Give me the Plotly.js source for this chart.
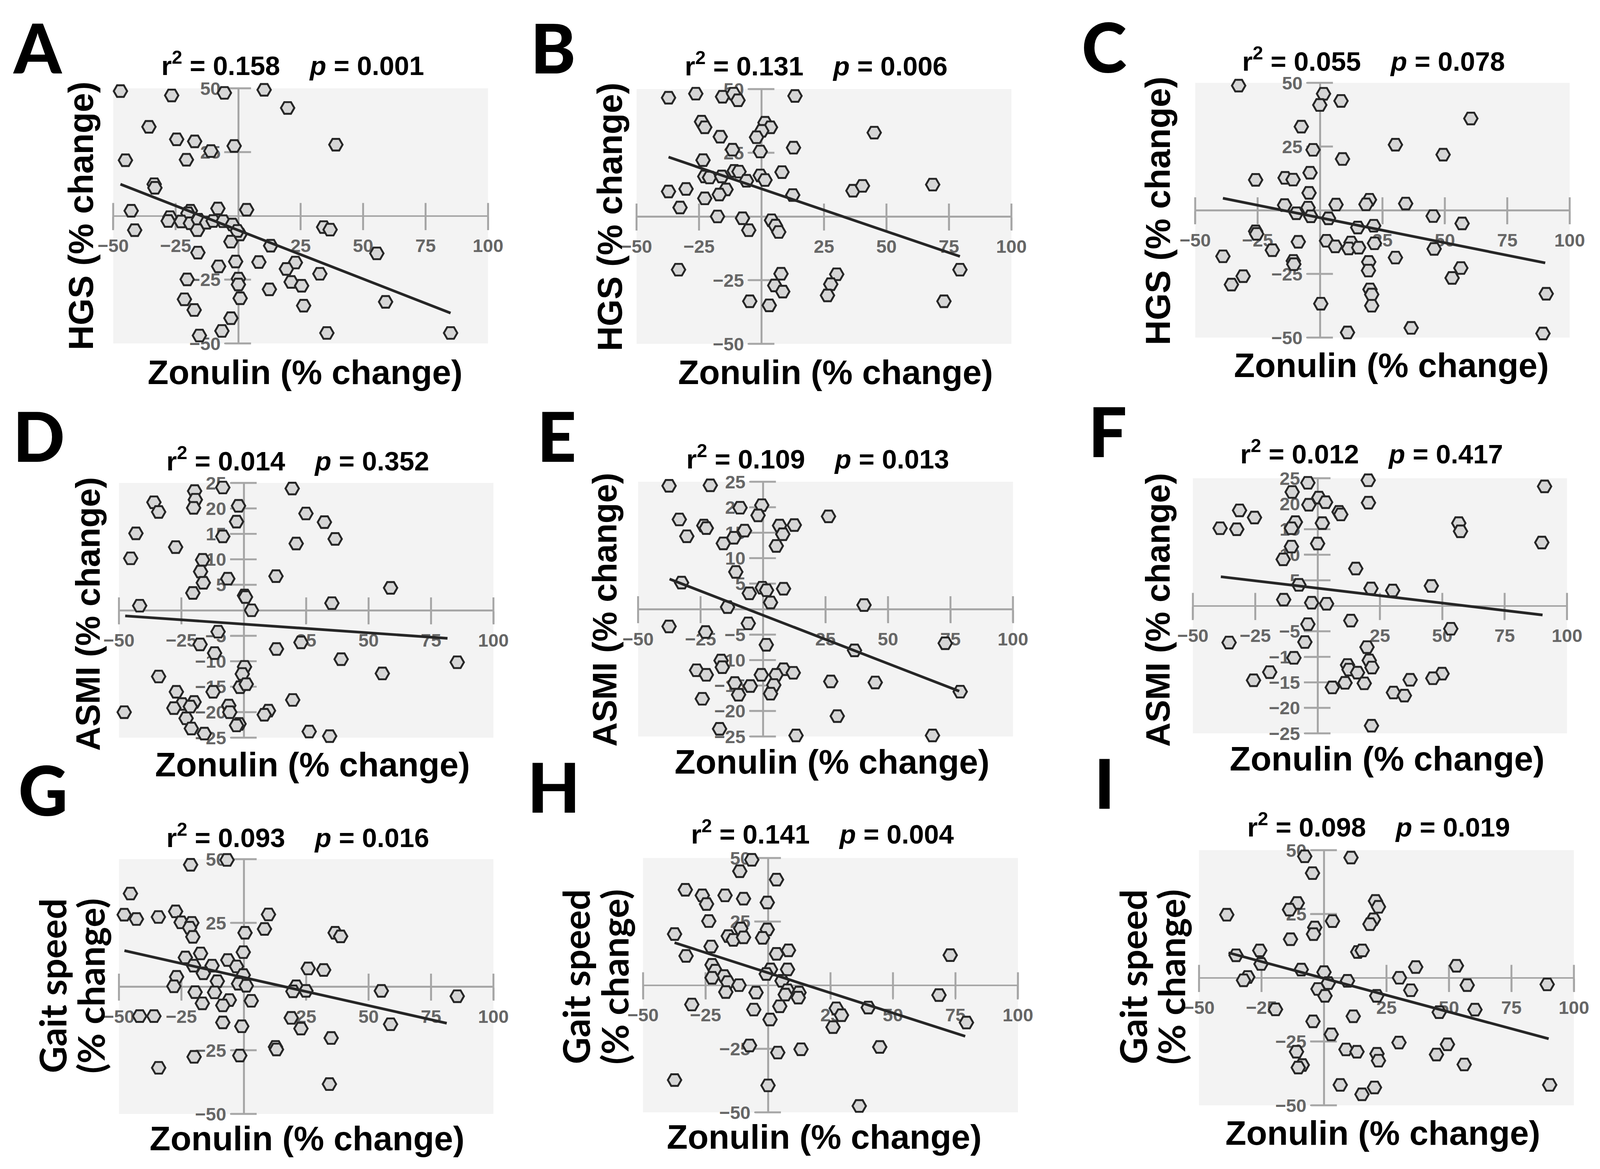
<!DOCTYPE html>
<html>
<head>
<meta charset="utf-8">
<script src="https://cdn.plot.ly/plotly-3.0.1.min.js"></script>
<style>
html, body { margin: 0; padding: 0; background: #fff; overflow: hidden; }
#chart { width: 100vw; height: 100vh; }
</style>
</head>
<body>
<div id="chart"></div>
<script>
// zonulin % change (x) against each outcome % change (y), one pair per panel
var zonA = [-47.1,-26.6,-5.5,10.4,19.8,-35.7,-24.6,-17.4,-1.6,-10.9,39.1,-45.1,-20.7,-33.6,-33.3,-42.8,-19.1,-20.1,-8.1,3.4,-27.3,-28.0,-22.8,-19.1,-15.9,-12.6,-10.0,-6.0,-2.3,-16.3,-41.4,0.7,-0.3,34.2,36.8,-2.9,13.0,55.5,-16.1,-1.0,8.3,22.9,-7.8,19.3,32.7,-20.4,0.1,0.1,21.2,25.4,12.5,-21.5,0.8,59.0,26.2,-17.6,-2.9,-6.5,-15.5,35.5,85.0];
var hgsA = [48.9,47.2,48.2,49.4,42.3,34.9,30.0,29.2,27.4,25.4,27.9,21.8,22.0,12.4,11.0,2.0,2.0,1.0,2.9,2.4,-0.5,-2.0,-2.2,-2.9,-1.5,-2.7,-2.0,-2.1,-3.4,-5.6,-5.6,-7.3,-5.9,-4.4,-5.4,-10.1,-11.7,-14.7,-14.4,-17.9,-18.1,-18.3,-19.8,-20.8,-22.7,-24.9,-24.6,-26.9,-25.9,-27.4,-28.8,-32.7,-32.3,-33.7,-35.2,-36.9,-40.1,-45.1,-46.9,-45.9,-45.9];

var zonB = [-37.2,-26.3,-15.6,-11.2,-9.4,13.4,-24.0,-22.7,-16.5,1.4,3.6,0.1,-2.0,45.1,-11.6,-0.5,12.8,-23.4,-10.9,-9.0,8.2,-22.7,-20.8,-15.9,-0.5,1.4,-6.0,-37.2,-30.2,-14.2,-16.9,-22.7,12.5,36.6,40.4,68.5,-32.6,-17.6,-7.6,4.0,5.6,-5.1,6.9,-33.2,79.4,7.8,30.1,5.3,8.5,27.7,26.4,-4.7,3.1,73.0];
var hgsB = [46.6,48.2,47.0,48.2,45.6,47.3,37.2,35.0,31.3,36.8,35.0,33.6,31.1,32.9,26.2,25.5,27.0,22.1,17.9,17.6,17.4,15.7,15.3,15.7,16.1,14.3,14.0,9.8,10.8,10.6,8.6,7.1,8.4,10.1,12.0,12.5,3.5,0,-0.7,-1.5,-3.6,-5.4,-6.1,-20.9,-20.9,-22.5,-22.7,-27.1,-29.5,-26.6,-31.0,-33.3,-34.9,-33.3];

var zonC = [-32.6,1.4,8.4,-0.1,60.4,-7.5,30.2,-2.8,49.3,9.0,-4.0,-25.8,-14.0,-10.8,-4.4,19.8,18.4,6.4,34.3,-14.2,-4.8,-9.5,-3.7,3.4,45.3,56.9,15.1,21.5,-25.8,-25.4,-8.7,2.6,12.4,21.8,6.1,11.5,15.5,-19.1,45.7,-38.9,30.2,-10.7,-10.5,19.5,19.4,56.4,-30.8,52.9,-35.5,20.0,20.7,20.7,90.6,0.3,36.5,11.0,89.3];
var hgsC = [48.9,45.7,42.9,41.3,36.0,32.8,25.7,23.7,21.8,20.1,14.7,11.9,12.7,12.0,6.8,4.1,2.3,2.2,2.6,2.0,1.0,-1.2,-2.4,-3.2,-2.3,-5.2,-6.8,-6.1,-8.3,-9.3,-12.4,-12.0,-12.7,-13.0,-14.2,-15.0,-14.7,-15.7,-15.2,-18.1,-18.6,-19.9,-21.2,-20.3,-23.7,-22.7,-25.9,-26.6,-29.2,-31.1,-33.1,-37.5,-32.8,-36.7,-46.2,-48.0,-48.4];

var zonD = [-8.4,-19.7,-19.4,-20.1,-36.0,-34.1,-2.1,19.4,24.9,32.3,-2.9,-43.2,-8.4,36.6,21.0,-27.3,-45.3,-16.5,-17.3,-6.4,-16.2,12.9,58.8,-20.4,0.3,0.7,35.3,-41.7,3.1,-10.3,-17.5,22.9,13.1,-11.7,39.0,85.5,0.3,-0.6,55.5,-34.1,-1.5,1.0,-12.3,-27.0,19.6,-19.9,-24.7,-21.4,-28.0,-6.0,-5.6,-47.9,9.9,8.2,-23.1,-1.9,-2.9,-21.0,-15.8,26.2,34.4];
var asmiD = [24.1,23.4,21.7,20.1,21.2,19.3,20.5,23.9,19.0,17.3,17.4,15.1,14.5,14.0,13.1,12.4,10.2,9.9,7.6,6.2,5.4,6.7,4.4,3.4,2.9,2.6,1.4,0.9,0.0,-4.2,-6.7,-6.3,-7.6,-8.4,-9.6,-10.2,-11.1,-12.5,-12.4,-13.0,-15.1,-14.5,-16.0,-16.0,-17.6,-18.0,-18.4,-18.9,-19.2,-18.7,-20.0,-20.0,-19.7,-20.5,-21.2,-22.3,-22.6,-23.2,-24.2,-23.8,-24.7];

var zonE = [-37.6,-21.1,-9.2,-0.5,-2.0,26.2,-33.5,-23.7,-22.7,-7.4,6.6,12.5,-30.5,-11.7,7.9,-15.9,5.3,-10.9,-32.6,-0.3,1.4,8.2,-5.5,3.0,-14.2,40.4,-37.6,-5.9,-23.0,1.3,72.9,36.6,-16.8,-16.3,-26.6,-22.7,-0.7,8.2,5.2,12.1,-11.3,-5.1,4.3,27.1,44.9,3.0,-9.8,-24.3,78.9,29.7,-17.4,13.2,67.8];
var asmiE = [24.2,24.3,19.9,20.4,18.4,18.2,17.6,16.4,15.9,15.4,16.4,16.5,14.3,14.0,14.7,12.9,12.4,7.3,5.2,4.2,3.7,4.0,3.1,1.3,0.4,0.8,-3.4,-2.8,-4.5,-7.0,-6.7,-8.1,-10.1,-11.4,-12.0,-12.9,-12.9,-11.8,-12.9,-12.5,-14.5,-15.1,-14.9,-14.2,-14.4,-16.6,-16.8,-17.6,-16.2,-21.0,-23.5,-24.8,-24.8];

var zonF = [-3.9,20.3,91.0,-10.2,0.5,3.2,-3.5,20.4,-31.3,8.6,9.3,-25.3,-8.9,1.9,-10.5,56.6,57.3,-39.1,-32.4,0.0,89.9,-10.5,-13.8,15.3,-7.5,45.6,21.4,30.1,-13.6,-2.4,3.6,13.3,-3.9,53.4,-35.5,-5.1,19.8,-9.5,20.7,21.8,12.0,12.6,16.0,-19.2,49.9,46.2,37.1,-25.7,11.0,18.7,5.9,30.4,34.8,21.6];
var asmiF = [24.1,24.6,23.4,22.3,21.2,20.3,19.8,20.2,18.7,18.4,17.9,17.3,16.4,16.2,15.2,16.2,14.6,15.2,15.0,12.2,12.4,11.6,9.1,7.3,4.1,3.9,3.4,3.0,1.2,0.6,0.4,-2.9,-3.6,-4.5,-7.2,-7.1,-8.1,-10.2,-10.7,-12.1,-11.6,-12.5,-13.1,-13.0,-13.3,-14.2,-14.5,-14.6,-15.1,-15.2,-16.0,-17.0,-17.6,-23.5];

var zonG = [-6.7,-21.3,-45.4,-47.9,-43.0,-34.2,-27.3,-25.1,-20.8,-21.7,-20.4,9.9,8.3,0.5,36.6,38.8,-17.3,-23.4,-6.4,-0.2,-12.7,-2.9,-20.1,-16.2,25.8,32.0,-0.2,-26.9,-10.6,-28.0,-2.1,1.0,21.0,19.7,24.9,55.1,85.5,-19.5,-11.7,3.0,-5.8,-16.6,-8.4,-41.7,-36.0,19.0,-8.4,-0.8,22.9,58.8,35.0,12.7,13.1,-19.9,-1.6,-34.1,34.3];
var gaitG = [49.7,47.8,36.5,28.2,26.5,27.3,29.5,25.2,25.0,23.1,19.5,28.3,22.6,21.1,21.1,19.7,13.0,11.4,10.4,13.5,8.2,7.9,8.2,5.2,7.1,6.5,4.5,3.8,2.1,0.1,1.1,0.3,0.1,-1.9,-1.7,-1.7,-3.8,-2.2,-2.3,-5.6,-5.3,-6.6,-7.4,-11.6,-11.6,-12.3,-14.1,-15.6,-16.5,-14.8,-20.2,-23.7,-24.7,-27.6,-27.1,-31.9,-38.3];

var zonH = [-6.5,-11.3,3.4,-33.1,-26.3,-24.6,-17.2,-9.8,-0.3,-23.7,-37.4,-10.9,-0.3,-15.9,-13.9,-9.8,-2.2,-22.8,8.2,3.4,-32.8,72.9,-22.4,-21.1,1.0,7.8,-0.7,-17.6,-22.4,-16.1,-11.6,5.6,7.8,-16.9,-4.8,6.9,12.4,12.1,68.4,-30.5,4.7,-5.7,27.3,40.1,29.4,0.8,79.4,26.0,-7.4,13.2,44.7,3.9,-37.4,0.0,36.5];
var gaitH = [49.3,44.8,41.5,37.5,35.3,31.9,35.3,34.0,32.5,25.2,20.1,22.3,21.9,19.3,17.8,18.8,18.6,15.2,13.7,12.3,11.5,11.8,8.0,5.7,6.2,6.2,4.4,3.6,2.9,1.2,0,1.7,-2.0,-2.7,-2.9,-3.7,-2.9,-4.9,-3.9,-7.6,-8.3,-9.6,-9.1,-8.8,-11.8,-13.5,-14.7,-16.5,-23.7,-25.2,-24.3,-26.5,-37.3,-39.4,-47.5];

var zonI = [-7.7,10.8,-4.6,20.6,21.8,-10.7,-13.8,-38.9,3.4,19.8,18.4,-3.7,-4.2,-13.4,-25.7,13.5,15.3,-35.2,-25.2,53.0,36.7,-9.1,0.0,-30.5,-32.2,30.2,9.4,1.7,57.3,89.3,-2.4,34.7,0.4,21.1,-19.4,46.1,60.4,11.7,-4.4,2.9,30.0,49.4,-11.0,8.8,13.2,21.2,21.8,45.0,-8.7,-10.3,56.1,6.5,20.2,15.2,90.3];
var gaitI = [47.6,47.1,41.0,30.1,27.8,29.3,26.7,24.7,22.2,22.9,21.0,19.7,17.1,15.1,10.7,10.1,10.7,8.8,5.4,4.7,4.2,3.2,2.2,0.3,-1.0,0,-1.2,-2.1,-2.9,-2.6,-4.4,-4.9,-7.1,-7.1,-12.4,-13.5,-12.5,-15.1,-17.1,-22.2,-25.4,-26.1,-29.0,-28.1,-29.0,-29.8,-32.5,-30.1,-34.2,-35.2,-34.0,-42.0,-43.0,-45.7,-42.0];

// fitted regression line ends
var fitX = [[-47.1,85.0],[-37.2,79.4],[-38.9,90.2],[-47.5,81.6],[-37.4,78.5],[-38.8,90.2],[-47.8,81.3],[-37.4,78.9],[-38.2,89.9]];
var fitY = [[12.4,-38.1],[23.3,-15.7],[4.7,-20.7],[-1.1,-5.5],[5.9,-16.1],[5.7,-1.8],[14.1,-14.4],[16.7,-20.1],[9.8,-23.9]];

var r2Vals = ['0.158','0.131','0.055','0.014','0.109','0.012','0.093','0.141','0.098'];
var pVals = ['0.001','0.006','0.078','0.352','0.013','0.417','0.016','0.004','0.019'];
var letters = ['A','B','C','D','E','F','G','H','I'];

var xTicks = [-50,-25,25,50,75,100];
var wideTicks = [-50,-25,25,50];
var narrowTicks = [-25,-20,-15,-10,-5,5,10,15,20,25];

var xs = [zonA,zonB,zonC,zonD,zonE,zonF,zonG,zonH,zonI];
var ys = [hgsA,hgsB,hgsC,asmiD,asmiE,asmiF,gaitG,gaitH,gaitI];

// layout measured in a 4170 x 2992 frame, fitted to whatever the window is
var W = 4170, H = 2992;
var VW = window.innerWidth || W, VH = window.innerHeight || H;
var k = Math.min(VW / W, VH / H);
function s(v) { return v * k; }

var boxes = [
	[295,1272,226,879],[1659,2636,228,880],[3115,4091,212,864],
	[310,1286,1236,1888],[1663,2640,1233,1885],[3109,4084,1224,1877],
	[310,1286,2199,2851],[1676,2653,2196,2847],[3125,4102,2176,2829]
];
var letterPos = [[98,120],[1442,120],[2878,118],[101,1114],[1451,1114],[2887,1102],[113,2020],[1443,2012],[2879,2002]];
var titlePos = [[763,163],[2127,164],[3580,152],[776,1175],[2131,1170],[3575,1157],[776,2139],[2144,2130],[3593,2112]];
var xTitlePos = [[795,953],[2178,953],[3626,935],[814,1957],[2168,1950],[3615,1942],[800,2914],[2148,2910],[3604,2900]];
var yTitlePos = [[212,552],[1589,555],[3018,539],[229,1571],[1576,1561],[3018,1561],[185,2523],[1550,2500],[3001,2500]];

var axisCol = '#a6a6a6';
var sans = 'Liberation Sans, Arial, sans-serif';
var rounded = 'Lato, Liberation Sans, sans-serif';

function px(x) { return x / W; }
function py(y) { return 1 - y / H; }
function zeros(a) { return a.map(function () { return 0; }); }

var data = [];
var layout = {
	width: VW,
	height: VH,
	margin: {l: 0, r: 0, t: 0, b: 0},
	paper_bgcolor: '#ffffff',
	plot_bgcolor: '#f3f3f3',
	showlegend: false,
	annotations: []
};

function addText(text, x, y, font, angle) {
	layout.annotations.push({
		text: text,
		xref: 'paper', yref: 'paper',
		x: px(x), y: py(y),
		xanchor: 'center', yanchor: 'middle',
		showarrow: false,
		textangle: angle || 0,
		font: font
	});
}

function bold(family, size) {
	return {family: family, size: s(size), color: '#000', weight: 700};
}

for (var i = 0; i < 9; i++) {
	var n = i === 0 ? '' : String(i + 1);
	var xa = 'x' + n, ya = 'y' + n;
	var b = boxes[i];
	var narrow = (i >= 3 && i <= 5);
	var yTicks = narrow ? narrowTicks : wideTicks;
	var yRange = narrow ? [-25, 25] : [-50, 50];
	var xd = [px(b[0]), px(b[1])];
	var yd = [py(b[3]), py(b[2])];

	// crossing tick marks on the zero axes
	data.push({
		x: xTicks, y: zeros(xTicks), xaxis: xa, yaxis: ya,
		type: 'scatter', mode: 'markers', cliponaxis: false, hoverinfo: 'skip',
		marker: {symbol: 'line-ns', size: s(48), line: {width: s(5), color: axisCol}}
	});
	data.push({
		x: zeros(yTicks), y: yTicks, xaxis: xa, yaxis: ya,
		type: 'scatter', mode: 'markers', cliponaxis: false, hoverinfo: 'skip',
		marker: {symbol: 'line-ew', size: s(48), line: {width: s(5), color: axisCol}}
	});
	data.push({
		x: xs[i], y: ys[i], xaxis: xa, yaxis: ya,
		type: 'scatter', mode: 'markers', cliponaxis: false,
		marker: {symbol: 'hexagon2', size: s(35), color: '#d6d6d6', line: {width: s(5), color: '#262626'}}
	});
	data.push({
		x: fitX[i], y: fitY[i], xaxis: xa, yaxis: ya,
		type: 'scatter', mode: 'lines', cliponaxis: false,
		line: {color: '#262626', width: s(7)}
	});

	var tickFont = {family: sans, size: s(48), color: '#666666', weight: 700};
	layout['xaxis' + n] = {
		domain: xd, range: [-50, 100], anchor: 'free',
		position: yd[0] + (yd[1] - yd[0]) * (0 - yRange[0]) / (yRange[1] - yRange[0]),
		showline: true, linecolor: axisCol, linewidth: s(5),
		ticks: 'outside', ticklen: s(34), tickwidth: s(5), tickcolor: axisCol,
		tickmode: 'array', tickvals: xTicks, tickfont: tickFont,
		ticklabelstandoff: s(14),
		showgrid: false, zeroline: false, layer: 'below traces', fixedrange: true
	};
	layout['yaxis' + n] = {
		domain: yd, range: yRange, anchor: 'free',
		position: xd[0] + (xd[1] - xd[0]) * (50 / 150),
		showline: true, linecolor: axisCol, linewidth: s(5),
		ticks: 'outside', ticklen: s(34), tickwidth: s(5), tickcolor: axisCol,
		tickmode: 'array', tickvals: yTicks, tickfont: tickFont,
		ticklabelstandoff: s(6),
		showgrid: false, zeroline: false, layer: 'below traces', fixedrange: true
	};

	addText(letters[i], letterPos[i][0], letterPos[i][1], {family: rounded, size: s(178), color: '#000', weight: 900});
	addText('r<sup>2</sup> = ' + r2Vals[i] + '\u00a0\u00a0\u00a0\u00a0<i>p</i> = ' + pVals[i],
		titlePos[i][0], titlePos[i][1], bold(sans, 70));
	addText('Zonulin (% change)', xTitlePos[i][0], xTitlePos[i][1], bold(sans, 89));

	if (i < 3) {
		addText('HGS (% change)', yTitlePos[i][0], yTitlePos[i][1], bold(sans, 90), -90);
	} else if (i < 6) {
		addText('ASMI (% change)', yTitlePos[i][0], yTitlePos[i][1], bold(sans, 88), -90);
	} else {
		addText('Gait speed', yTitlePos[i][0] - 50, yTitlePos[i][1], bold(rounded, 96), -90);
		addText('(% change)', yTitlePos[i][0] + 50, yTitlePos[i][1], bold(rounded, 96), -90);
	}
}

Plotly.newPlot('chart', data, layout, {staticPlot: true, displayModeBar: false});
</script>
</body>
</html>
